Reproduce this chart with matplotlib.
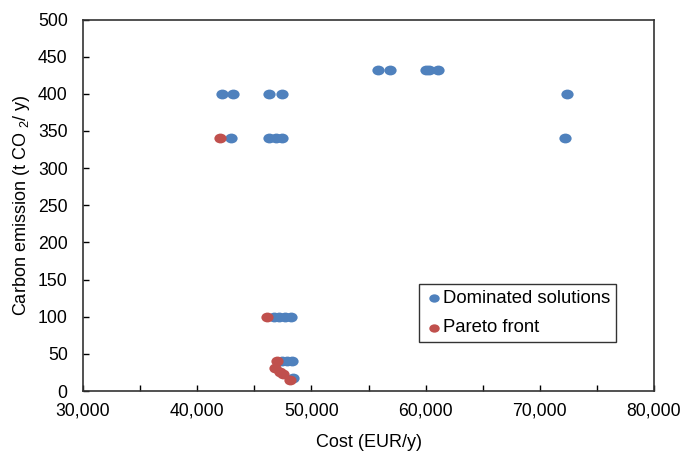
import numpy as np
import matplotlib
matplotlib.use("Agg")
import matplotlib.pyplot as plt
from matplotlib.path import Path
from matplotlib.transforms import Affine2D
from matplotlib.ticker import MultipleLocator, FuncFormatter

plt.rcParams['font.family'] = ['Liberation Sans', 'DejaVu Sans']
plt.rcParams['mathtext.fontset'] = 'custom'
plt.rcParams['mathtext.rm'] = 'Liberation Sans'
plt.rcParams['mathtext.it'] = 'Liberation Sans'

# ---- data ----
dom_cost = [42150, 43150, 46250, 47400, 55800, 56900, 60000, 60300, 61100, 72350,
            43000, 46250, 46900, 47400, 72250,
            46700, 47200, 47700, 48200,
            47400, 47900, 48300, 48350]
dom_co2 = [400, 400, 400, 400, 432, 432, 432, 432, 432, 400,
           340, 340, 340, 340, 340,
           99, 99, 99, 99,
           41, 41, 41, 17]

par_cost = [42000, 46150, 46950, 46800, 47250, 47500, 48100]
par_co2 = [340, 99, 41, 31, 26, 23, 15]

blue = '#4f81bd'
red = '#c0504d'

# slightly wide oval marker
oval = Path.unit_circle().transformed(Affine2D().scale(1.25, 1.0))

fig = plt.figure(figsize=(6.83, 4.55), dpi=100)
ax = fig.add_axes([83/683, 1 - 391/455, 571/683, 371.5/455])

ax.scatter(dom_cost, dom_co2, s=78, marker=oval, color=blue, linewidths=0,
           label='Dominated solutions', zorder=3)
ax.scatter(par_cost, par_co2, s=78, marker=oval, color=red, linewidths=0,
           label='Pareto front', zorder=4)

ax.set_xlim(30000, 80000)
ax.set_ylim(0, 500)
ax.xaxis.set_major_locator(MultipleLocator(10000))
ax.xaxis.set_minor_locator(MultipleLocator(5000))
ax.yaxis.set_major_locator(MultipleLocator(50))
ax.xaxis.set_major_formatter(FuncFormatter(lambda v, p: '{:,.0f}'.format(v)))

ax.tick_params(which='both', direction='in', length=4, width=1, colors='black',
               labelsize=12.7, top=False, right=False)
ax.tick_params(axis='y', pad=11)
ax.tick_params(axis='x', pad=8)
for sp in ax.spines.values():
    sp.set_color('#333333')
    sp.set_linewidth(1.2)

ax.set_xlabel('Cost (EUR/y)', fontsize=13, labelpad=11)
ax.set_ylabel('Carbon emission (t CO $_{2}$/ y)', fontsize=13, labelpad=4)

leg = ax.legend(loc='upper left', bbox_to_anchor=(0.588, 0.288), fontsize=13.3,
                frameon=True, fancybox=False, edgecolor='black', handletextpad=0.0,
                borderpad=0.3, labelspacing=0.7, markerscale=0.85, handlelength=1.0,
                borderaxespad=0)
leg.get_frame().set_linewidth(1.0)

fig.savefig('out.png', dpi=100)
